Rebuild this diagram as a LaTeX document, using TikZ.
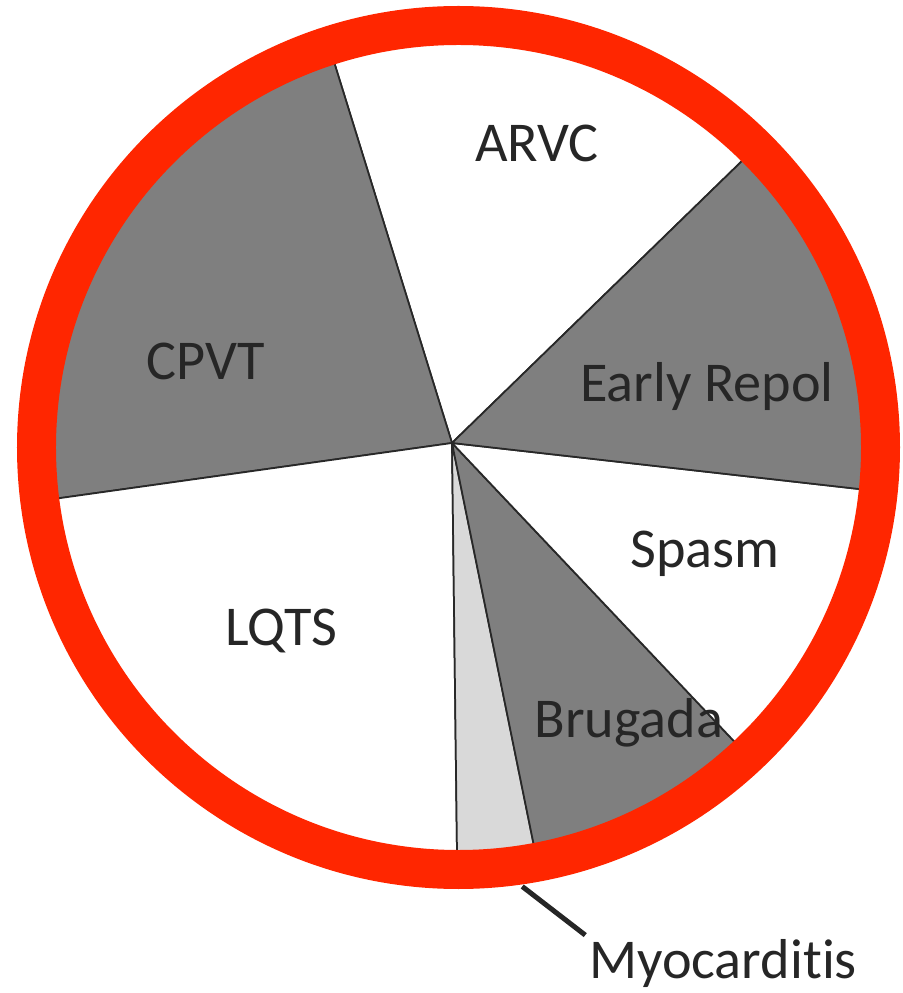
\documentclass[tikz,border=0pt]{standalone}
\usepackage{fontspec}
\setmainfont{Carlito}[Ligatures=NoCommon]
\definecolor{ringred}{RGB}{255,38,0}
\definecolor{slicegray}{RGB}{127,127,127}
\definecolor{slicelight}{RGB}{217,217,217}
\definecolor{edgegray}{RGB}{40,40,40}
\begin{document}
\begin{tikzpicture}[
                x=0.02cm, y=0.02cm,
                slice/.style={
                    draw=edgegray,
                    line width=0.035cm,
                    line join=round
                },
                darkslice/.style={
                    slice,
                    fill=slicegray
                },
                whiteslice/.style={
                    slice,
                    fill=white
                },
                lightslice/.style={
                    slice,
                    fill=slicelight
                },
                caption/.style={
                    anchor=base,
                    inner sep=2pt,
                    text=black!85,
                    font=\fontsize{32}{38}\selectfont
                },
                ring/.style={
                    draw=ringred,
                    line width=0.78cm
                },
                pointer/.style={
                    draw=black!85,
                    line width=0.1cm
                }
            ]
                \useasboundingbox (-452,-550) rectangle (450,443);

                \coordinate (hub) at (0,0);

                \path[whiteslice] (hub) -- (44.2:420) arc[start angle=44.2, end angle=107.2, radius=420] -- cycle;
                \path[darkslice] (hub) -- (107.2:420) arc[start angle=107.2, end angle=188, radius=420] -- cycle;
                \path[whiteslice] (hub) -- (188:420) arc[start angle=188, end angle=270.7, radius=420] -- cycle;
                \path[lightslice] (hub) -- (270.7:420) arc[start angle=270.7, end angle=281.5, radius=420] -- cycle;
                \path[darkslice] (hub) -- (281.5:420) arc[start angle=281.5, end angle=313.4, radius=420] -- cycle;
                \path[whiteslice] (hub) -- (313.4:420) arc[start angle=313.4, end angle=353.55, radius=420] -- cycle;
                \path[darkslice] (hub) -- (353.55:420) arc[start angle=353.55, end angle=404.2, radius=420] -- cycle;

                \node[caption] (arvc) at (85,281) {ARVC};
                \node[caption] (cpvt) at (-246,63) {CPVT};
                \node[caption] (early) at (255,41) {Early Repol};
                \node[caption] (spasm) at (253,-125) {Spasm};
                \node[caption] (brugada) at (177,-294) {Brugada};
                \node[caption] (lqts) at (-171,-202) {LQTS};

                \draw[ring] (6.5,-4.5) circle[radius=422];

                \coordinate (myoedge) at (-81:449);
                \node[caption] (myolabel) at (271,-535) {Myocarditis};
                \draw[pointer] (myoedge) -- (myolabel.north west);
        \end{tikzpicture}
\end{document}
